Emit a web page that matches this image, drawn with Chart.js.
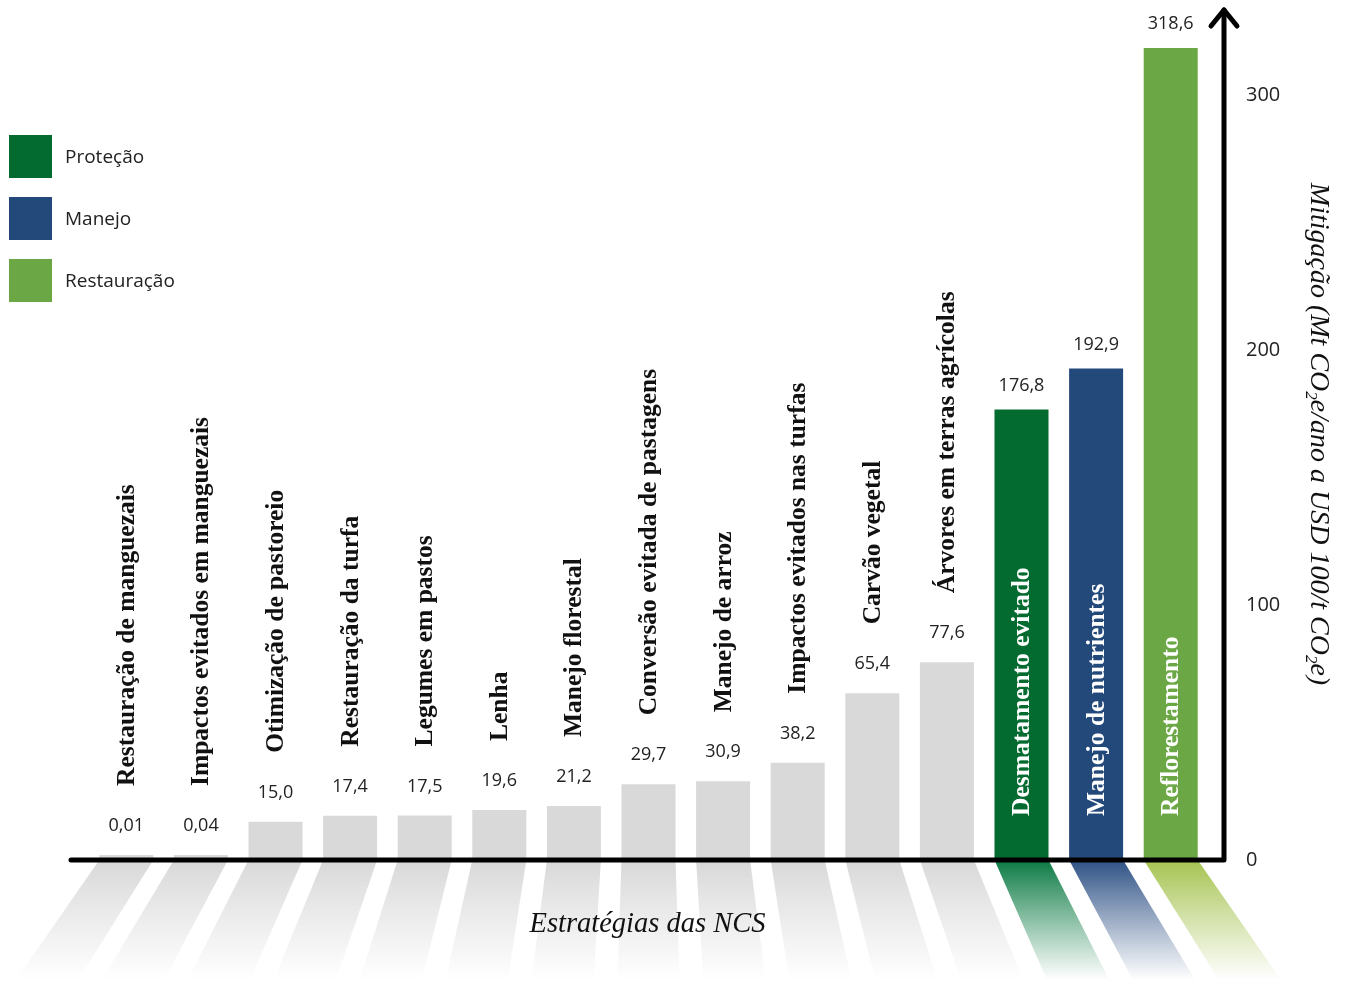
<!DOCTYPE html>
<html lang="pt-BR">
<head>
<meta charset="utf-8">
<title>Estratégias das NCS</title>
<script src="https://cdn.jsdelivr.net/npm/chart.js@4.4.1/dist/chart.umd.min.js"></script>
<style>
    html, body { margin: 0; padding: 0; background: #fff; }
    #wrap { width: 1346px; height: 988px; }
</style>
</head>
<body>
<div id="wrap"><canvas id="ncsChart" width="1346" height="988"></canvas></div>
<script>
// Dados do gráfico
const categories = [
    'Restauração de manguezais',
    'Impactos evitados em manguezais',
    'Otimização de pastoreio',
    'Restauração da turfa',
    'Legumes em pastos',
    'Lenha',
    'Manejo florestal',
    'Conversão evitada de pastagens',
    'Manejo de arroz',
    'Impactos evitados nas turfas',
    'Carvão vegetal',
    'Árvores em terras agrícolas',
    'Desmatamento evitado',
    'Manejo de nutrientes',
    'Reflorestamento'
];
const mitigation = [0.01, 0.04, 15.0, 17.4, 17.5, 19.6, 21.2, 29.7, 30.9, 38.2, 65.4, 77.6, 176.8, 192.9, 318.6];
const groups = ['Outro', 'Outro', 'Outro', 'Outro', 'Outro', 'Outro', 'Outro', 'Outro', 'Outro', 'Outro', 'Outro', 'Outro', 'Proteção', 'Manejo', 'Restauração'];
const legendLabels = ['Proteção', 'Manejo', 'Restauração'];
const yTicks = [0, 100, 200, 300];
const xTitle = 'Estratégias das NCS';

// Cores
const barColors = {
    'Outro': '#d9d9d9',
    'Proteção': '#036b30',
    'Manejo': '#23487a',
    'Restauração': '#6ba744'
};
const shadowColors = {
    'Outro': ['#d8d8d8', 'rgba(255,255,255,0.9)'],
    'Proteção': ['#0b7a43', 'rgba(255,255,255,0.9)'],
    'Manejo': ['#2e5185', 'rgba(255,255,255,0.9)'],
    'Restauração': ['#a6c351', 'rgba(255,255,255,0.9)']
};

const SANS = '"Open Sans", sans-serif';
const SERIF = '"Liberation Serif", "DejaVu Serif", serif';

function formatValue(v) {
    return (v < 1 ? v.toFixed(2) : v.toFixed(1)).replace('.', ',');
}

// ==================== DECORAÇÃO ====================

const ncsDecor = {
    id: 'ncsDecor',

    beforeDatasetsDraw(chart) {
        // sombras em perspectiva abaixo da linha de base
        const ctx = chart.ctx;
        const area = chart.chartArea;
        const base = chart.scales.y.getPixelForValue(0);
        const bottom = chart.height;
        const cx = (area.left + area.right) / 2;
        const k = 1.162;
        const meta = chart.getDatasetMeta(0);

        ctx.save();
        meta.data.forEach((bar, i) => {
            const half = bar.width / 2;
            const l = bar.x - half;
            const r = bar.x + half;
            const cols = shadowColors[groups[i]];
            const grad = ctx.createLinearGradient(0, base, 0, bottom - 8);
            grad.addColorStop(0, cols[0]);
            grad.addColorStop(1, cols[1]);
            ctx.fillStyle = grad;
            ctx.beginPath();
            ctx.moveTo(l, base);
            ctx.lineTo(r, base);
            ctx.lineTo(cx + (r - cx) * k, bottom);
            ctx.lineTo(cx + (l - cx) * k, bottom);
            ctx.closePath();
            ctx.fill();
        });
        ctx.restore();
    },

    afterDatasetsDraw(chart) {
        const ctx = chart.ctx;
        const area = chart.chartArea;
        const yScale = chart.scales.y;
        const base = yScale.getPixelForValue(0);
        const axisX = area.right + 16;
        const meta = chart.getDatasetMeta(0);

        ctx.save();

        // linha de base e eixo com seta
        ctx.strokeStyle = '#000';
        ctx.lineWidth = 5;
        ctx.lineCap = 'round';
        ctx.lineJoin = 'round';
        ctx.beginPath();
        ctx.moveTo(area.left - 18, base);
        ctx.lineTo(axisX, base);
        ctx.lineTo(axisX, 10);
        ctx.stroke();
        ctx.beginPath();
        ctx.moveTo(axisX - 13, 26);
        ctx.lineTo(axisX, 10);
        ctx.lineTo(axisX + 13, 26);
        ctx.stroke();

        // valores e rótulos das barras
        meta.data.forEach((bar, i) => {
            const inside = groups[i] !== 'Outro';

            ctx.fillStyle = '#222';
            ctx.font = '18px ' + SANS;
            ctx.textAlign = 'center';
            ctx.textBaseline = 'middle';
            ctx.fillText(formatValue(mitigation[i]), bar.x, bar.y - (inside ? 24 : 29));

            ctx.save();
            ctx.font = 'bold 25.5px ' + SERIF;
            ctx.fillStyle = inside ? '#fff' : '#111';
            ctx.translate(bar.x + 1, inside ? base - 44 : bar.y - 69);
            ctx.rotate(-Math.PI / 2);
            ctx.textAlign = 'left';
            ctx.textBaseline = 'middle';
            ctx.fillText(categories[i], 0, 0);
            ctx.restore();
        });

        // legenda
        legendLabels.forEach((label, i) => {
            const top = 135 + i * 62;
            ctx.fillStyle = barColors[label];
            ctx.fillRect(9, top, 43, 43);
            ctx.fillStyle = '#222';
            ctx.font = '19px ' + SANS;
            ctx.textAlign = 'left';
            ctx.textBaseline = 'middle';
            ctx.fillText(label, 65, top + 23);
        });

        // título do eixo x
        ctx.fillStyle = '#111';
        ctx.font = 'italic 28.5px ' + SERIF;
        ctx.textAlign = 'center';
        ctx.textBaseline = 'middle';
        ctx.fillText(xTitle, (area.left + area.right) / 2 - 1, 925);

        // título do eixo y, com subscritos
        const parts = [
            ['Mitigação (Mt CO', false],
            ['2', true],
            ['e/ano a USD 100/t CO', false],
            ['2', true],
            ['e)', false]
        ];
        const mainFont = 'italic 28px ' + SERIF;
        const subFont = 'italic 17px ' + SERIF;
        let total = 0;
        parts.forEach(p => {
            ctx.font = p[1] ? subFont : mainFont;
            total += ctx.measureText(p[0]).width;
        });
        ctx.save();
        ctx.translate(axisX + 96, 434);
        ctx.rotate(Math.PI / 2);
        ctx.textAlign = 'left';
        ctx.textBaseline = 'alphabetic';
        let pos = -total / 2;
        parts.forEach(p => {
            ctx.font = p[1] ? subFont : mainFont;
            ctx.fillText(p[0], pos, p[1] ? 14 : 9);
            pos += ctx.measureText(p[0]).width;
        });
        ctx.restore();

        ctx.restore();
    }
};

// ==================== GRÁFICO ====================

const ctx = document.getElementById('ncsChart').getContext('2d');

new Chart(ctx, {
    type: 'bar',
    data: {
        labels: categories,
        datasets: [{
            data: mitigation,
            backgroundColor: groups.map(g => barColors[g]),
            borderWidth: 0,
            barPercentage: 0.724,
            categoryPercentage: 1,
            minBarLength: 5
        }]
    },
    options: {
        responsive: false,
        animation: false,
        layout: {
            padding: { left: 89, top: 19, bottom: 128, right: 0 }
        },
        plugins: {
            legend: { display: false },
            tooltip: { enabled: false }
        },
        scales: {
            x: {
                display: false
            },
            y: {
                position: 'right',
                min: 0,
                max: 330,
                grace: 0,
                grid: { display: false, drawTicks: false },
                border: { display: false },
                ticks: {
                    padding: 38,
                    color: '#222',
                    font: { family: SANS, size: 20 },
                    callback: v => String(v)
                },
                afterBuildTicks: scale => {
                    scale.ticks = yTicks.map(v => ({ value: v }));
                },
                afterFit: scale => {
                    scale.width = 138;
                    scale.paddingTop = 0;
                    scale.paddingBottom = 0;
                }
            }
        }
    },
    plugins: [ncsDecor]
});
</script>
</body>
</html>
